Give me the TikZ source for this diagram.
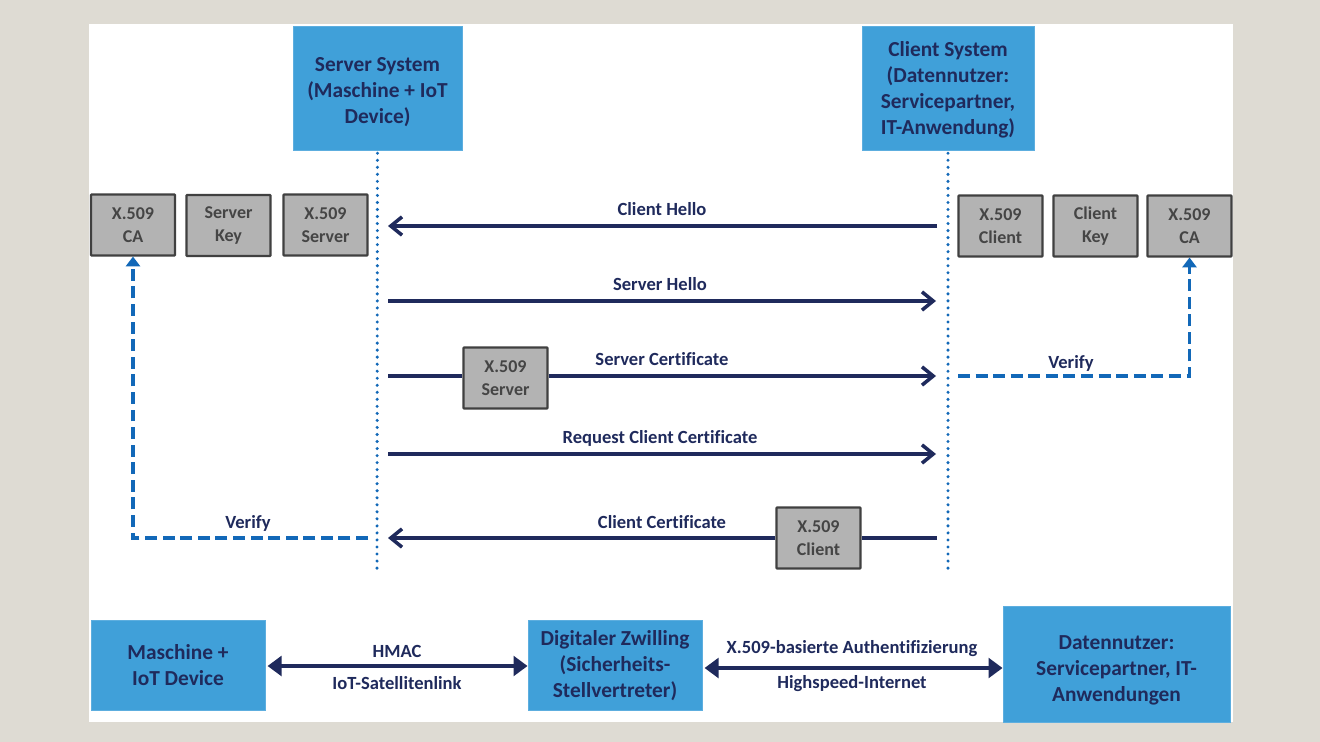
\documentclass[tikz,border=0pt]{standalone}
\usepackage{fontspec}
\setmainfont{Carlito}[Ligatures=NoCommon]
\usetikzlibrary{arrows.meta}

\definecolor{pagegrey}{HTML}{DEDBD3}
\definecolor{boxblue}{HTML}{40A0D9}
\definecolor{navy}{HTML}{1F2A5C}
\definecolor{certgrey}{HTML}{B3B3B3}
\definecolor{certtext}{HTML}{454545}
\definecolor{dashblue}{HTML}{1268B8}

\newcommand{\firstline}[1]{\rule{0pt}{#1}}

\tikzset{
  bluebox/.style={rectangle,draw=boxblue!85!white,fill=boxblue,line width=0.6pt,align=center,
    text=navy,font=\bfseries\fontsize{15.2}{18.5}\selectfont,inner sep=0pt},
  certbox/.style={rectangle,rounded corners=0.5pt,draw=black!75,fill=certgrey,line width=1.6pt,align=center,
    text=certtext,font=\bfseries\fontsize{12.8}{16.8}\selectfont,inner sep=0pt,
    minimum width=2.1cm,minimum height=1.52cm},
  lifeline/.style={dashblue,line width=2.4pt,line cap=round,dash pattern=on 0pt off 5pt},
  message/.style={navy,line width=2.5pt,-{Straight Barb[length=8pt,width=13pt,line width=2.5pt]}},
  msgline/.style={navy,line width=2.5pt},
  verify/.style={dashblue,line width=2.3pt,dash pattern=on 8.5pt off 4pt,-{Triangle[length=7pt,width=10pt]}},
  link/.style={navy,line width=2.6pt,shorten <=1.5pt,{Triangle[length=10pt,width=14pt]}-{Triangle[length=10pt,width=14pt]}},
  msglabel/.style={text=navy,font=\bfseries\fontsize{13.2}{15}\selectfont,inner sep=0pt},
}

\begin{document}
\begin{tikzpicture}[x=0.025cm,y=-0.025cm]

% page and sheet
\path[fill=pagegrey,use as bounding box] (0,0) rectangle (1320,742);
\path[fill=white] (89,24) rectangle (1233,722);

% system nodes
\node[bluebox,minimum width=4.225cm,minimum height=3.1cm] (server) at (377.5,88) {\firstline{16.5pt}Server System\\(Maschine + IoT\\Device)};
\node[bluebox,minimum width=4.3cm,minimum height=3.1cm] (client) at (948,88) {\firstline{13pt}Client System\\(Datennutzer:\\Servicepartner,\\IT-Anwendung)};

% server certificates
\node[certbox] (server ca) at (133,225) {X.509\\CA};
\node[certbox] (server key) at (228.5,225.5) {Server\\Key};
\node[certbox] (server cert) at (325.5,225) {X.509\\Server};

% client certificates
\node[certbox] (client cert) at (1000.5,226) {X.509\\Client};
\node[certbox] (client key) at (1095.5,226) {Client\\Key};
\node[certbox] (client ca) at (1189.5,226) {X.509\\CA};

% lifelines
\coordinate (server end) at (377,570);
\coordinate (client end) at (948,572);
\draw[lifeline,shorten <=2pt] (server) -- (server end);
\draw[lifeline,shorten <=2pt] (client) -- (client end);

% message end points
\coordinate (s1) at (388,226);
\coordinate (c1) at (937,226);
\coordinate (s2) at (388,301);
\coordinate (c2) at (936,301);
\coordinate (s3) at (388,376);
\coordinate (c3) at (936,376);
\coordinate (s4) at (388,454);
\coordinate (c4) at (936,454);
\coordinate (s5) at (388,538);
\coordinate (c5) at (937,538);

% messages
\draw[message] (c1) -- (s1);
\node[msglabel] (hello c) at (662,209.5) {Client Hello};

\draw[message] (s2) -- (c2);
\node[msglabel] (hello s) at (660,284.5) {Server Hello};

\node[certbox] (sent server) at (505.5,378) {X.509\\Server};
\draw[msgline] (s3) -- (s3 -| sent server.west);
\draw[message] (s3 -| sent server.east) -- (c3);
\node[msglabel] (cert s) at (662,359) {Server Certificate};

\draw[message] (s4) -- (c4);
\node[msglabel] (cert r) at (660,438.5) {Request Client Certificate};

\node[certbox] (sent client) at (818.5,538) {X.509\\Client};
\draw[msgline] (c5) -- (sent client);
\draw[message] (sent client) -- (s5);
\node[msglabel] (cert c) at (662,522) {Client Certificate};

% verify paths
\coordinate (verify c) at (958,376);
\coordinate (verify s) at (368,538);
\draw[verify] (verify c) -| (client ca);
\draw[verify] (verify s) -| (server ca);
\node[msglabel] (verify cl) at (1071,363) {Verify};
\node[msglabel] (verify sl) at (248,523) {Verify};

% bottom row
\node[bluebox,minimum width=4.35cm,minimum height=2.25cm] (machine) at (178,665) {Maschine +\\IoT Device};
\node[bluebox,minimum width=4.35cm,minimum height=2.25cm] (twin) at (615,665) {\firstline{11pt}Digitaler Zwilling\\(Sicherheits-\\Stellvertreter)};
\node[bluebox,minimum width=5.675cm,minimum height=2.9cm] (user) at (1116.5,664) {\firstline{19pt}Datennutzer:\\Servicepartner, IT-\\Anwendungen};

\draw[link] (machine.east |- 0,666) -- (twin.west |- 0,666);
\draw[link] (twin.east |- 0,668) -- (user.west |- 0,668);
\node[msglabel] (hmac) at (397,651) {HMAC};
\node[msglabel] (sat) at (397,683) {IoT-Satellitenlink};
\node[msglabel] (x509) at (852,649) {X.509-basierte Authentifizierung};
\node[msglabel] (speed) at (852,684) {Highspeed-Internet};

\end{tikzpicture}
\end{document}
